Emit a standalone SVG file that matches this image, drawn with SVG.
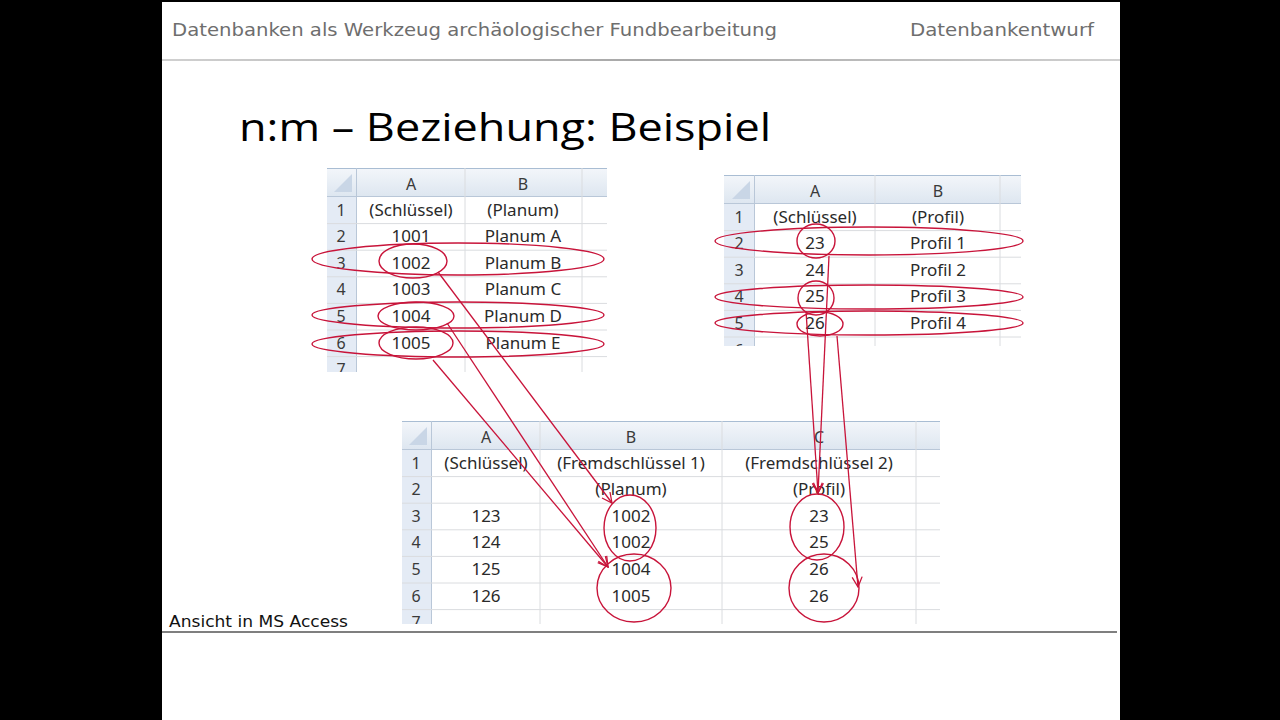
<svg xmlns="http://www.w3.org/2000/svg" width="1280" height="720" viewBox="0 0 1280 720">
<style>
.hdr{font-family:"DejaVu Sans","Liberation Sans",sans-serif;font-size:18px;fill:#6e6e6e}
.title{font-family:"Open Sans","Noto Sans",sans-serif;font-size:38px;fill:#000}
.cell{font-family:"Noto Sans","Open Sans",sans-serif;font-size:17px;fill:#2a2a2a;text-anchor:middle}
.colh{font-family:"Noto Sans","Open Sans",sans-serif;font-size:16px;fill:#3a3a3a;text-anchor:middle}
.rn{font-family:"Noto Sans","Open Sans",sans-serif;font-size:16px;fill:#3a3a3a;text-anchor:middle}
.grid{stroke:#dadcdf;stroke-width:1}
.hsep{stroke:#b9c7d8;stroke-width:1}
.ring{fill:none;stroke:#c8143a;stroke-width:1.4}
.arr{fill:none;stroke:#c8143a;stroke-width:1.3;marker-end:url(#ah)}
.foot{font-family:"DejaVu Sans","Liberation Sans",sans-serif;font-size:15px;fill:#111}
</style>
<defs>
<linearGradient id="hg" x1="0" y1="0" x2="0" y2="1">
<stop offset="0" stop-color="#f3f6fa"/><stop offset="1" stop-color="#dde6f0"/>
</linearGradient>
<linearGradient id="topline" x1="0" y1="0" x2="1" y2="0">
<stop offset="0" stop-color="#d0d0d0"/><stop offset="0.5" stop-color="#a8a8a8"/><stop offset="1" stop-color="#d0d0d0"/>
</linearGradient>
<marker id="ah" viewBox="0 0 12 12" refX="11" refY="6" markerWidth="12" markerHeight="12" markerUnits="userSpaceOnUse" orient="auto">
<path d="M1,1 L11,6 L1,11" fill="none" stroke="#c8143a" stroke-width="1.3"/>
</marker>
<clipPath id="c1"><rect x="320" y="160" width="300" height="212"/></clipPath>
<clipPath id="c2"><rect x="720" y="170" width="310" height="176"/></clipPath>
<clipPath id="c3"><rect x="398" y="415" width="550" height="209"/></clipPath>
</defs>

<rect x="0" y="0" width="1280" height="720" fill="#000"/>
<rect x="162" y="2" width="958" height="718" fill="#fff"/>

<g id="header">
<text class="hdr" x="172" y="36" textLength="605" lengthAdjust="spacingAndGlyphs">Datenbanken als Werkzeug archäologischer Fundbearbeitung</text>
<text class="hdr" x="910" y="36" textLength="184" lengthAdjust="spacingAndGlyphs">Datenbankentwurf</text>
<rect x="162" y="59" width="958" height="2" fill="url(#topline)"/>
</g>

<g id="title">
<text class="title" x="239" y="141" textLength="532" lengthAdjust="spacingAndGlyphs">n:m – Beziehung: Beispiel</text>
</g>

<!-- Table 1 -->
<g id="table-planum" clip-path="url(#c1)">
<rect x="327" y="168" width="280" height="210" fill="#fff"/>
<rect x="327" y="168" width="280" height="29" fill="url(#hg)"/>
<rect x="327" y="197" width="30" height="180" fill="#e4ebf5"/>
<line x1="327" y1="168.5" x2="607" y2="168.5" stroke="#a9bdd3"/>
<line x1="327" y1="196.5" x2="607" y2="196.5" class="hsep"/>
<line x1="356.5" y1="168" x2="356.5" y2="380" class="hsep"/>
<line x1="465" y1="168" x2="465" y2="380" class="grid"/>
<line x1="582" y1="168" x2="582" y2="380" class="grid"/>
<polygon points="352,174 352,192 334,192" fill="#c9d6e6"/>
<g class="grid">
<line x1="327" y1="223.6" x2="607" y2="223.6"/>
<line x1="327" y1="250.2" x2="607" y2="250.2"/>
<line x1="327" y1="276.8" x2="607" y2="276.8"/>
<line x1="327" y1="303.4" x2="607" y2="303.4"/>
<line x1="327" y1="330" x2="607" y2="330"/>
<line x1="327" y1="356.6" x2="607" y2="356.6"/>
</g>
<text class="colh" x="411" y="190">A</text>
<text class="colh" x="523" y="190">B</text>
<text class="rn" x="341" y="216">1</text>
<text class="rn" x="341" y="242">2</text>
<text class="rn" x="341" y="269">3</text>
<text class="rn" x="341" y="295">4</text>
<text class="rn" x="341" y="322">5</text>
<text class="rn" x="341" y="349">6</text>
<text class="rn" x="341" y="375">7</text>
<text class="cell" x="411" y="216">(Schlüssel)</text><text class="cell" x="523" y="216">(Planum)</text>
<text class="cell" x="411" y="242">1001</text><text class="cell" x="523" y="242">Planum A</text>
<text class="cell" x="411" y="269">1002</text><text class="cell" x="523" y="269">Planum B</text>
<text class="cell" x="411" y="295">1003</text><text class="cell" x="523" y="295">Planum C</text>
<text class="cell" x="411" y="322">1004</text><text class="cell" x="523" y="322">Planum D</text>
<text class="cell" x="411" y="349">1005</text><text class="cell" x="523" y="349">Planum E</text>
</g>

<!-- Table 2 -->
<g id="table-profil" clip-path="url(#c2)">
<rect x="724" y="175" width="297" height="175" fill="#fff"/>
<rect x="724" y="175" width="297" height="29" fill="url(#hg)"/>
<rect x="724" y="204" width="31" height="150" fill="#e4ebf5"/>
<line x1="724" y1="175.5" x2="1021" y2="175.5" stroke="#a9bdd3"/>
<line x1="724" y1="203.5" x2="1021" y2="203.5" class="hsep"/>
<line x1="754.5" y1="175" x2="754.5" y2="350" class="hsep"/>
<line x1="875" y1="175" x2="875" y2="350" class="grid"/>
<line x1="1000" y1="175" x2="1000" y2="350" class="grid"/>
<polygon points="750,181 750,199 732,199" fill="#c9d6e6"/>
<g class="grid">
<line x1="724" y1="230.6" x2="1021" y2="230.6"/>
<line x1="724" y1="257.2" x2="1021" y2="257.2"/>
<line x1="724" y1="283.8" x2="1021" y2="283.8"/>
<line x1="724" y1="310.4" x2="1021" y2="310.4"/>
<line x1="724" y1="337" x2="1021" y2="337"/>
</g>
<text class="colh" x="815" y="197">A</text>
<text class="colh" x="938" y="197">B</text>
<text class="rn" x="739" y="223">1</text>
<text class="rn" x="739" y="249">2</text>
<text class="rn" x="739" y="276">3</text>
<text class="rn" x="739" y="302">4</text>
<text class="rn" x="739" y="329">5</text>
<text class="rn" x="739" y="356">6</text>
<text class="cell" x="815" y="223">(Schlüssel)</text><text class="cell" x="938" y="223">(Profil)</text>
<text class="cell" x="815" y="249">23</text><text class="cell" x="938" y="249">Profil 1</text>
<text class="cell" x="815" y="276">24</text><text class="cell" x="938" y="276">Profil 2</text>
<text class="cell" x="815" y="302">25</text><text class="cell" x="938" y="302">Profil 3</text>
<text class="cell" x="815" y="329">26</text><text class="cell" x="938" y="329">Profil 4</text>
</g>

<!-- Table 3 -->
<g id="table-verknuepfung" clip-path="url(#c3)">
<rect x="402" y="421" width="538" height="210" fill="#fff"/>
<rect x="402" y="421" width="538" height="29" fill="url(#hg)"/>
<rect x="402" y="450" width="30" height="180" fill="#e4ebf5"/>
<line x1="402" y1="421.5" x2="940" y2="421.5" stroke="#a9bdd3"/>
<line x1="402" y1="449.5" x2="940" y2="449.5" class="hsep"/>
<line x1="431.5" y1="421" x2="431.5" y2="630" class="hsep"/>
<line x1="540" y1="421" x2="540" y2="630" class="grid"/>
<line x1="722" y1="421" x2="722" y2="630" class="grid"/>
<line x1="916" y1="421" x2="916" y2="630" class="grid"/>
<polygon points="427,427 427,445 409,445" fill="#c9d6e6"/>
<g class="grid">
<line x1="402" y1="476.6" x2="940" y2="476.6"/>
<line x1="402" y1="503.2" x2="940" y2="503.2"/>
<line x1="402" y1="529.8" x2="940" y2="529.8"/>
<line x1="402" y1="556.4" x2="940" y2="556.4"/>
<line x1="402" y1="583" x2="940" y2="583"/>
<line x1="402" y1="609.6" x2="940" y2="609.6"/>
</g>
<text class="colh" x="486" y="443">A</text>
<text class="colh" x="631" y="443">B</text>
<text class="colh" x="819" y="443">C</text>
<text class="rn" x="416" y="469">1</text>
<text class="rn" x="416" y="495">2</text>
<text class="rn" x="416" y="522">3</text>
<text class="rn" x="416" y="548">4</text>
<text class="rn" x="416" y="575">5</text>
<text class="rn" x="416" y="602">6</text>
<text class="rn" x="416" y="628">7</text>
<text class="cell" x="486" y="469">(Schlüssel)</text><text class="cell" x="631" y="469">(Fremdschlüssel 1)</text><text class="cell" x="819" y="469">(Fremdschlüssel 2)</text>
<text class="cell" x="631" y="495">(Planum)</text><text class="cell" x="819" y="495">(Profil)</text>
<text class="cell" x="486" y="522">123</text><text class="cell" x="631" y="522">1002</text><text class="cell" x="819" y="522">23</text>
<text class="cell" x="486" y="548">124</text><text class="cell" x="631" y="548">1002</text><text class="cell" x="819" y="548">25</text>
<text class="cell" x="486" y="575">125</text><text class="cell" x="631" y="575">1004</text><text class="cell" x="819" y="575">26</text>
<text class="cell" x="486" y="602">126</text><text class="cell" x="631" y="602">1005</text><text class="cell" x="819" y="602">26</text>
</g>

<g id="markings">
<ellipse class="ring" cx="458" cy="259" rx="146" ry="16"/>
<ellipse class="ring" cx="413" cy="261" rx="34" ry="17"/>
<ellipse class="ring" cx="458" cy="315" rx="146" ry="13"/>
<ellipse class="ring" cx="416" cy="316" rx="38" ry="14"/>
<ellipse class="ring" cx="458" cy="344" rx="146" ry="13"/>
<ellipse class="ring" cx="416" cy="343" rx="37" ry="16"/>
<ellipse class="ring" cx="869" cy="241" rx="154" ry="14"/>
<ellipse class="ring" cx="816" cy="241" rx="19" ry="17"/>
<ellipse class="ring" cx="869" cy="297" rx="154" ry="12"/>
<ellipse class="ring" cx="816" cy="298" rx="18" ry="17"/>
<ellipse class="ring" cx="869" cy="323" rx="154" ry="12"/>
<ellipse class="ring" cx="820" cy="324" rx="23" ry="12"/>
<ellipse class="ring" cx="630" cy="528" rx="26" ry="33"/>
<ellipse class="ring" cx="634" cy="588" rx="37" ry="34"/>
<ellipse class="ring" cx="817" cy="527" rx="27" ry="33"/>
<ellipse class="ring" cx="824" cy="588" rx="35" ry="34"/>
</g>

<g id="connectors">
<line class="arr" x1="438" y1="272" x2="612" y2="503"/>
<line class="arr" x1="447" y1="323" x2="608" y2="567"/>
<line class="arr" x1="433" y1="360" x2="608" y2="567"/>
<line class="arr" x1="829" y1="256" x2="818" y2="493"/>
<line class="arr" x1="806" y1="311" x2="818" y2="493"/>
<line class="arr" x1="837" y1="336" x2="858" y2="587"/>
</g>

<g id="footer">
<text class="foot" x="169" y="627" textLength="179" lengthAdjust="spacingAndGlyphs">Ansicht in MS Access</text>
<line x1="162" y1="632" x2="1117" y2="632" stroke="#555" stroke-width="1.5"/>
</g>
</svg>
